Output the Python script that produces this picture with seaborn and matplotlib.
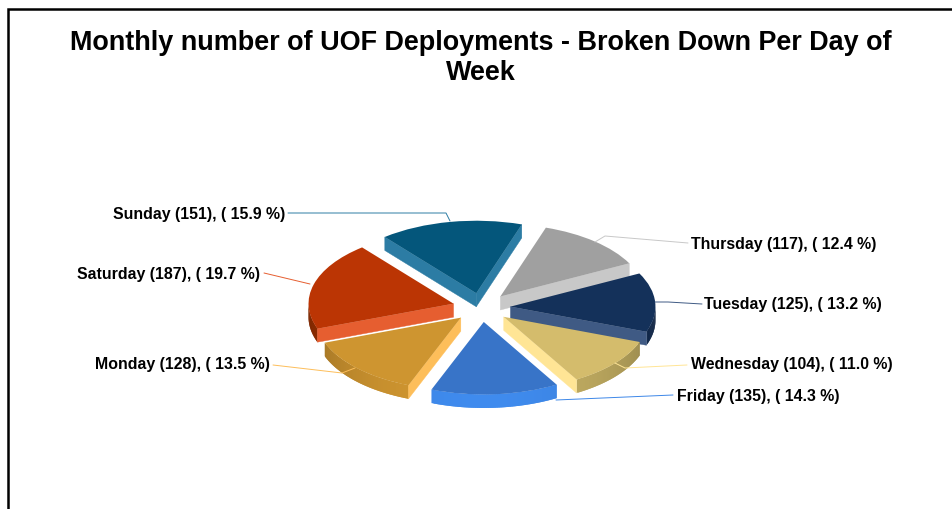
import numpy as np
import matplotlib
matplotlib.use("Agg")
import matplotlib.pyplot as plt
from matplotlib.patches import Polygon
import seaborn as sns

days = ["Thursday", "Tuesday", "Wednesday", "Friday", "Monday", "Saturday", "Sunday"]
counts = [117, 125, 104, 135, 128, 187, 151]
top_hex = ["#A0A0A0", "#14315A", "#D4BC6C", "#3874C8", "#CE9530", "#BB3504", "#04567B"]
cut_hex = ["#C8C8C8", "#3F5A84", "#FFE595", "#3D87E8", "#FDBE5A", "#E65E30", "#2C7CA4"]
rim_hex = ["#8A8A8A", "#14305A", "#C3AE62", "#3F8BEE", "#D09630", "#A83400", "#04567B"]
title = "Monthly number of UOF Deployments - Broken Down Per Day of\nWeek"

W, H = 953, 509
CX, CY, RX, RY = 481.5, 307.5, 145.0, 72.5
DEPTH = 13.5 / RY

sns.set_theme(style="white")
plt.rcParams["font.family"] = ["Liberation Sans", "DejaVu Sans"]
top_pal = sns.color_palette(top_hex)
cut_pal = sns.color_palette(cut_hex)
rim_pal = sns.color_palette(rim_hex)

fig = plt.figure(figsize=(W / 100, H / 100), dpi=100, facecolor="white")
ax = fig.add_axes([0, 0, 1, 1])

wedges, _ = ax.pie(counts, explode=[0.2] * len(counts), startangle=71.7, counterclock=False,
                   colors=top_pal, radius=1, wedgeprops={"linewidth": 0})
ax.set_aspect("auto")
ax.set_xlim((0 - CX) / RX, (W - CX) / RX)
ax.set_ylim((CY - H) / RY, (CY - 0) / RY)
ax.axis("off")


def px(x, y):
    return (x - CX) / RX, (CY - y) / RY


order = sorted(range(len(wedges)), key=lambda i: -wedges[i].center[1])
for rank, i in enumerate(order):
    w = wedges[i]
    cx, cy = w.center
    t1, t2 = w.theta1, w.theta2
    z = 2 + rank
    w.set_zorder(z + 0.5)
    # outer rim, shaded strip by strip; each strip overlaps the next to hide seams
    th = np.linspace(t1, t2, 60)
    for k in range(len(th) - 1):
        a, b = th[k], th[min(k + 2, len(th) - 1)]
        mid = np.radians((th[k] + th[k + 1]) / 2)
        if np.sin(mid) >= 0:
            continue
        f = 0.72 + 0.28 * (-np.sin(mid))
        col = tuple(np.clip(np.array(rim_pal[i]) * f, 0, 1))
        ra, rb = np.radians(a), np.radians(b)
        pts = [(cx + np.cos(ra), cy + np.sin(ra)), (cx + np.cos(rb), cy + np.sin(rb)),
               (cx + np.cos(rb), cy + np.sin(rb) - DEPTH), (cx + np.cos(ra), cy + np.sin(ra) - DEPTH)]
        ax.add_patch(Polygon(pts, closed=True, facecolor=col, edgecolor="none", zorder=z))
    # cut faces that look towards the viewer
    for ang, normal in ((t1, t1 - 90), (t2, t2 + 90)):
        if np.sin(np.radians(normal)) < 0:
            r = np.radians(ang)
            ex, ey = cx + np.cos(r), cy + np.sin(r)
            pts = [(cx, cy), (ex, ey), (ex, ey - DEPTH), (cx, cy - DEPTH)]
            ax.add_patch(Polygon(pts, closed=True, facecolor=cut_pal[i], edgecolor=cut_pal[i],
                                 lw=0.3, zorder=z + 0.2))

# labels and leader lines, in picture pixels
label_pos = {"Sunday": (285, 214, "right"), "Saturday": (260, 274, "right"), "Monday": (270, 365, "right"),
             "Thursday": (691, 244, "left"), "Tuesday": (704, 304, "left"),
             "Wednesday": (691, 365, "left"), "Friday": (677, 396, "left")}
leaders = {"Sunday": [(288, 213), (446, 213), (450, 221)],
           "Saturday": [(264, 273), (310, 284)],
           "Monday": [(273, 365), (342, 373), (355, 368)],
           "Thursday": [(688, 243), (605, 236), (595, 242)],
           "Tuesday": [(702, 304), (668, 302), (655, 302)],
           "Wednesday": [(687, 365), (625, 368), (615, 363)],
           "Friday": [(673, 395), (556, 400)]}
total = sum(counts)
for i, (d, v) in enumerate(zip(days, counts)):
    x, y, ha = label_pos[d]
    ax.text(*px(x, y), f"{d} ({v}), ( {100 * v / total:.1f} %)", ha=ha, va="center",
            fontsize=11.45, fontweight="bold", color="black", zorder=30)
    xs, ys = zip(*[px(a, b) for a, b in leaders[d]])
    ax.plot(xs, ys, color=cut_pal[i], lw=0.7, zorder=25, solid_joinstyle="miter")

ax.text(*px(481, 57.5), title, ha="center", va="center", fontsize=19.45, fontweight="bold",
        color="black", linespacing=1.2, zorder=30)

# frame of the chart area: only its top and left sides fall inside the picture
fx, fy = zip(*[px(8.5, 540), px(8.5, 9), px(953, 9)])
ax.plot(fx, fy, color="black", lw=1.8, zorder=40, solid_joinstyle="miter")

fig.savefig("out.png", dpi=100, facecolor="white")
